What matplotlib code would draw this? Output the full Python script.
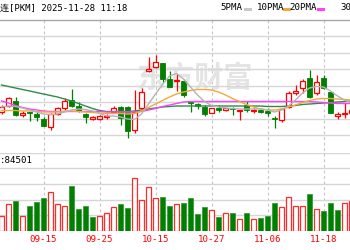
import numpy as np
import matplotlib
matplotlib.use('Agg')
import matplotlib.pyplot as plt
from matplotlib.lines import Line2D

# daily candles 09-05 .. 11-24 (visible window of the chart)
opens = [11.88, 11.94, 11.99, 11.85, 11.88, 11.86, 11.81, 11.73, 11.86, 11.92,
         12.00, 11.94, 11.86, 11.81, 11.81, 11.83, 11.88, 11.93, 11.93, 11.70,
         11.92, 12.29, 12.33, 12.37, 12.21, 12.19, 12.19, 11.98, 11.96, 11.93,
         11.87, 11.92, 11.90, 11.92, 11.89, 11.95, 11.89, 11.90, 11.89, 11.82,
         11.80, 11.93, 12.07, 12.12, 12.22, 12.07, 12.22, 12.08, 11.84, 11.86,
         11.87]
highs = [11.95, 12.03, 12.03, 11.89, 11.88, 11.88, 11.83, 11.87, 11.93, 12.02,
         12.11, 11.98, 11.87, 11.84, 11.85, 11.86, 11.94, 11.94, 11.94, 12.10,
         12.12, 12.43, 12.45, 12.37, 12.29, 12.26, 12.21, 11.99, 11.97, 11.95,
         11.92, 11.95, 11.92, 11.93, 11.90, 11.99, 11.92, 11.92, 11.92, 11.84,
         11.92, 12.09, 12.15, 12.21, 12.30, 12.25, 12.25, 12.08, 11.88, 11.97,
         11.92]
lows = [11.86, 11.93, 11.84, 11.83, 11.79, 11.79, 11.74, 11.70, 11.85, 11.90,
        11.93, 11.88, 11.77, 11.80, 11.80, 11.81, 11.87, 11.75, 11.62, 11.67,
        11.90, 12.28, 12.32, 12.18, 12.13, 12.09, 12.03, 11.88, 11.91, 11.84,
        11.87, 11.88, 11.89, 11.85, 11.80, 11.88, 11.87, 11.87, 11.84, 11.72,
        11.78, 11.92, 12.05, 12.07, 12.02, 12.05, 12.11, 11.87, 11.81, 11.82,
        11.86]
closes = [11.93, 12.02, 11.85, 11.87, 11.87, 11.83, 11.74, 11.86, 11.92, 11.99,
          11.94, 11.89, 11.83, 11.83, 11.84, 11.84, 11.92, 11.82, 11.69, 11.88,
          12.08, 12.31, 12.38, 12.21, 12.13, 12.20, 12.05, 11.97, 11.94, 11.86,
          11.92, 11.90, 11.92, 11.91, 11.90, 11.90, 11.90, 11.88, 11.87, 11.81,
          11.91, 12.07, 12.09, 12.19, 12.03, 12.18, 12.12, 11.87, 11.86, 11.87,
          11.90]
volumes = [38000, 68000, 76500, 38000, 64000, 75000, 83000, 99500, 68000, 64500,
           115500, 56000, 64500, 35000, 38000, 45000, 60500, 68000, 58500, 134500,
           79000, 113500, 84000, 88000, 64000, 68000, 70500, 83500, 42500, 60500,
           53500, 35500, 46500, 46500, 30500, 46500, 30500, 32500, 37500, 70500,
           60500, 87500, 63000, 64500, 93500, 56000, 51000, 70500, 53500, 72000,
           76500]
vol_up = [1, 1, 0, 1, 0, 0, 0, 1, 1, 1, 0, 0, 0, 0, 1, 1, 1, 0, 0, 1,
          1, 1, 1, 0, 0, 1, 0, 0, 0, 0, 1, 0, 1, 0, 1, 0, 1, 0, 0, 0,
          1, 1, 1, 1, 0, 1, 0, 0, 0, 1, 1]

ma5 = [11.93, 11.94, 11.935, 11.92, 11.90, 11.88, 11.86, 11.855, 11.86, 11.88,
       11.90, 11.91, 11.905, 11.89, 11.865, 11.84, 11.84, 11.83, 11.81, 11.805,
       11.86, 11.96, 12.06, 12.155, 12.24, 12.265, 12.21, 12.13, 12.05, 11.985,
       11.945, 11.93, 11.92, 11.915, 11.91, 11.91, 11.91, 11.91, 11.90, 11.88,
       11.90, 11.94, 12.00, 12.07, 12.12, 12.135, 12.13, 12.09, 12.04, 12.00,
       11.97]
ma10 = [11.895, 11.895, 11.895, 11.89, 11.89, 11.885, 11.88, 11.88, 11.88, 11.885,
        11.89, 11.885, 11.88, 11.875, 11.87, 11.865, 11.865, 11.865, 11.86, 11.865,
        11.89, 11.925, 11.96, 11.995, 12.03, 12.06, 12.08, 12.095, 12.105, 12.105,
        12.10, 12.08, 12.05, 12.015, 11.985, 11.955, 11.93, 11.91, 11.90, 11.90,
        11.91, 11.93, 11.95, 11.975, 11.995, 12.01, 12.015, 12.015, 12.01, 12.005,
        12.00]
ma20 = [11.99, 11.97, 11.945, 11.925, 11.91, 11.90, 11.89, 11.885, 11.885, 11.885,
        11.885, 11.885, 11.885, 11.885, 11.885, 11.88, 11.88, 11.88, 11.88, 11.88,
        11.885, 11.90, 11.915, 11.935, 11.95, 11.965, 11.98, 11.985, 11.985, 11.985,
        11.985, 11.985, 11.985, 11.985, 11.985, 11.985, 11.985, 11.985, 11.985, 11.985,
        11.985, 11.985, 11.985, 11.985, 11.985, 11.98, 11.975, 11.97, 11.965, 11.965,
        11.965]
ma30 = [12.15, 12.135, 12.12, 12.105, 12.09, 12.075, 12.06, 12.045, 12.03, 12.01,
        11.99, 11.965, 11.94, 11.915, 11.895, 11.885, 11.885, 11.885, 11.885, 11.89,
        11.90, 11.91, 11.92, 11.93, 11.935, 11.94, 11.94, 11.94, 11.94, 11.94,
        11.94, 11.94, 11.94, 11.94, 11.94, 11.94, 11.94, 11.94, 11.935, 11.935,
        11.935, 11.94, 11.945, 11.955, 11.96, 11.965, 11.97, 11.975, 11.98, 11.985,
        11.99]

tick_pos = [6, 14, 22, 30, 38, 46]
tick_labels = ['09-15', '09-25', '10-15', '10-27', '11-06', '11-18']

W, H = 350, 250
mono = ['DejaVu Sans Mono', 'Noto Sans CJK SC']
red = '#ff0000'
green = '#008000'
grid_c = '#d6d6d6'

o = np.array(opens); c = np.array(closes)
hi = np.array(highs); lo = np.array(lows)
x = np.arange(len(o))
xlim = (-1.5 / 7, (W - 1.5) / 7)


def box(top, bottom):
    return [0, 1 - bottom / H, 1, (bottom - top) / H]


fig = plt.figure(figsize=(W / 100, H / 100), dpi=100)

# background layer: pixel y, candle index x
bg = fig.add_axes([0, 0, 1, 1])
bg.set_xlim(xlim)
bg.set_ylim(H, 0)
bg.axis('off')
bg.vlines(tick_pos, 20, 231, color='#c4c4c4', lw=0.8, linestyles=(0, (2.5, 2.5)))
bg.axhline(20, color='#a8a8a8', lw=1)
for p, lab in zip(tick_pos, tick_labels):
    bg.text(p, 240, lab, color=red, fontsize=6.6, family=mono, ha='center', va='center')
bg.text(0.555, 0.69, '东方财富', transform=fig.transFigure, fontsize=21,
        color='#e4e4e4', family='Noto Sans CJK SC', fontweight='bold',
        ha='center', va='center')

# price panel
ax = fig.add_axes(box(20, 140))
ax.set_xlim(xlim)
ax.set_ylim(11.60, 12.80)
ax.axis('off')
for lv in 12.80 - 0.165 * np.arange(1, 8):
    ax.axhline(lv, color=grid_c, lw=1, zorder=0)

up = c >= o
ax.vlines(x[up], lo[up], hi[up], color=red, lw=0.9, zorder=2)
ax.vlines(x[~up], lo[~up], hi[~up], color=green, lw=0.9, zorder=2)
body_lo = np.minimum(o, c)
body_h = np.maximum(np.abs(c - o), 0.003)
ax.bar(x[up], body_h[up], bottom=body_lo[up], width=0.6, facecolor='white',
       edgecolor=red, lw=0.9, zorder=3)
ax.bar(x[~up], body_h[~up], bottom=body_lo[~up], width=0.6, facecolor=green,
       edgecolor=green, lw=0.6, zorder=3)

ax.plot(x, ma30, color='#2e8b4a', lw=1, zorder=4)
ax.plot(x, ma20, color='#ff40ff', lw=1, zorder=4)
ax.plot(x, ma10, color='#f2a93b', lw=1, zorder=4)
ax.plot(x, ma5, color='#b4b4b4', lw=1, zorder=4)

# volume panel
av = fig.add_axes(box(152.6, 231))
av.set_xlim(xlim)
av.set_ylim(0, 200000)
av.axis('off')
for lv in [40000, 80000, 120000, 160000, 200000]:
    av.axhline(lv, color=grid_c, lw=1, zorder=0)
vu = np.array(vol_up) == 1
vol = np.array(volumes)
av.bar(x[vu], vol[vu], width=0.62, facecolor='white', edgecolor='#ff2a2a', lw=0.9, zorder=3)
av.bar(x[~vu], vol[~vu], width=0.62, facecolor=green, edgecolor='#3c9a3c', lw=0.6, zorder=3)
av.text(0.0, 180000, ':84501', fontsize=6.6, family=mono, va='center', ha='left',
        transform=av.get_yaxis_transform())

# header
fig.text(0, 1 - 8 / H, '连[PKM] 2025-11-28 11:18', fontsize=6.5, family=mono,
         va='center', ha='left')
legend = [('5PMA', '#c8c8c8', 220, 244), ('10PMA', '#f2a93b', 257, 283),
          ('20PMA', '#ff40ff', 289, 317), ('30PMA', '#2e8b4a', 340, 368)]
for name, col, tx, lx in legend:
    fig.text(tx / W, 1 - 8 / H, name, fontsize=6.6, family=mono, va='center', ha='left')
    if lx < W:
        fig.add_artist(Line2D([(lx + 1) / W, (lx + 6) / W], [1 - 8.5 / H] * 2,
                              color=col, lw=2.2))

fig.savefig('out.png', dpi=100)
